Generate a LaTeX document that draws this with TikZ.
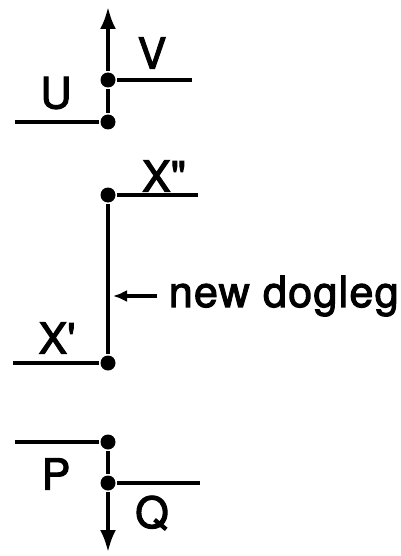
\documentclass[tikz,border=0pt]{standalone}
\usepackage{fontspec}
\setmainfont{TeX Gyre Heros}
\newfontfamily\lblfont[FakeBold=2.5,LetterSpace=3]{TeX Gyre Heros}
\usetikzlibrary{arrows.meta}

\begin{document}
\begin{tikzpicture}[x=1pt,y=-1pt,line width=3.6pt,
  dot/.style={circle,fill,inner sep=0pt,minimum size=15pt},
  lbl/.style={font=\lblfont\fontsize{43}{50}\selectfont,inner sep=0pt},
  endtip/.style={-{Latex[length=22pt,width=16pt]}},
  smalltip/.style={-{Latex[length=14pt,width=12pt]}}]
\useasboundingbox (0,0) rectangle (400,556);
% upper pair
\node[dot] (u) at (108,122) {};
\node[dot] (v) at (108,80) {};
\coordinate (uend) at (15,122);
\coordinate (vend) at (192,80);
\coordinate (utop) at (108,7);
\draw (uend) -- (u);
\draw (v) -- (vend);
\draw (u) -- (v);
\draw[endtip] (v) -- (utop);
\node[lbl] (ulbl) at (56,93) {U};
\node[lbl] (vlbl) at (152,53) {V};
% middle pair
\node[dot] (xtwo) at (108,195) {};
\node[dot] (xone) at (108,363) {};
\coordinate (xtwoend) at (198,195);
\coordinate (xoneend) at (13,363);
\draw (xtwo) -- (xtwoend);
\draw (xoneend) -- (xone);
\draw (xone) -- (xtwo);
\node[lbl] (xtwolbl) at (164,176) {X\textquotedbl};
\node[lbl] (xonelbl) at (57,338) {X\textquotesingle};
\coordinate (legpt) at (113,296);
\node[lbl,anchor=west] (newleg) at (167,296) {new dogleg};
\draw[smalltip] ([xshift=-10pt]newleg.west) -- (legpt);
% lower pair
\node[dot] (p) at (108,442) {};
\node[dot] (q) at (108,483) {};
\coordinate (pend) at (15,442);
\coordinate (qend) at (200,483);
\coordinate (qbot) at (108,552);
\draw (pend) -- (p);
\draw (q) -- (qend);
\draw (p) -- (q);
\draw[endtip] (q) -- (qbot);
\node[lbl] (plbl) at (56,474) {P};
\node[lbl] (qlbl) at (152,513) {Q};
\end{tikzpicture}
\end{document}
